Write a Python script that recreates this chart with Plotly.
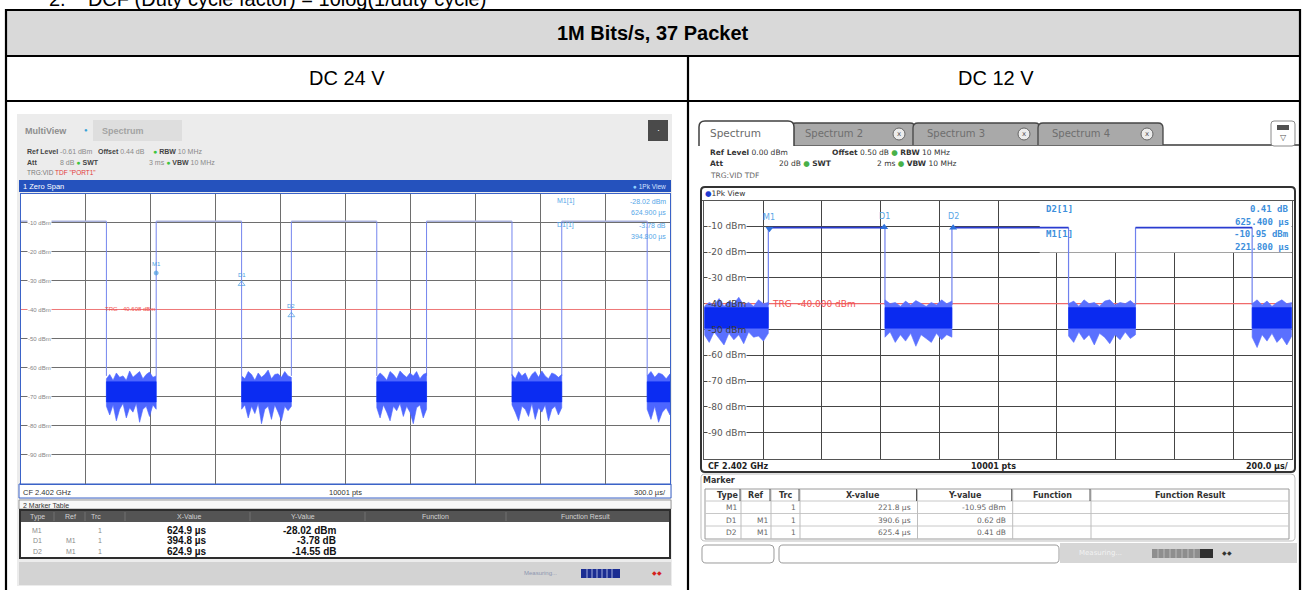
import numpy as np
import plotly.graph_objects as go

W, H = 1306, 590

# ======================= data =======================
doc_heading = "2.&nbsp;&nbsp;&nbsp;&nbsp;DCF (Duty cycle factor) = 10log(1/duty cycle)"
table_title = "1M Bits/s, 37 Packet"
column_titles = ["DC 24 V", "DC 12 V"]
level_labels = ["-10 dBm", "-20 dBm", "-30 dBm", "-40 dBm", "-50 dBm",
                "-60 dBm", "-70 dBm", "-80 dBm", "-90 dBm"]

# ---- left analyser (DC 24 V), zero span 300 us/div ----
left_sweep_us = [0.0, 3000.0]
left_ref_dbm = -0.61
left_high_dbm = -10.2
left_fall_us = [394.8, 1019.7, 1644.6, 2269.5, 2894.4]
left_rise_us = [624.9, 1249.8, 1874.7, 2499.6]
left_edge_floor_dbm = -63.5
left_noise_core_dbm = [-65.5, -72.5]
left_noise_top_dbm = [
    [-64.5, -63.0, -65.0, -62.5, -64.0, -63.5, -65.0, -61.8, -64.0, -63.0, -62.0, -64.5, -63.0, -62.2, -64.0, -63.5],
    [-63.5, -64.5, -62.0, -63.0, -65.0, -62.5, -64.0, -63.0, -61.5, -64.5, -63.0, -62.8, -64.0, -62.0, -63.5, -64.0],
    [-64.0, -62.5, -63.5, -65.0, -62.0, -63.0, -64.5, -61.8, -63.0, -64.0, -62.5, -63.5, -62.0, -64.5, -63.0, -62.5],
    [-63.0, -64.5, -62.0, -63.5, -62.5, -65.0, -63.0, -62.0, -64.0, -61.8, -63.5, -64.5, -62.5, -63.0, -64.0, -63.0],
    [-63.5, -62.0, -64.0, -62.5, -63.0, -64.5, -62.8],
]
left_noise_bottom_dbm = [
    [-74.0, -77.0, -73.5, -79.0, -75.0, -73.0, -78.0, -74.5, -76.0, -73.0, -79.5, -75.0, -74.0, -77.5, -73.5, -75.0],
    [-75.0, -73.5, -78.0, -74.0, -76.5, -73.0, -80.0, -75.0, -74.0, -78.5, -73.5, -76.0, -79.0, -74.0, -75.5, -74.0],
    [-74.5, -78.0, -73.5, -76.0, -79.0, -74.0, -75.5, -73.0, -77.5, -74.0, -76.0, -80.0, -74.5, -73.5, -78.0, -75.0],
    [-73.5, -76.0, -79.0, -74.0, -75.0, -77.5, -73.0, -78.5, -74.5, -76.0, -73.5, -79.0, -75.0, -74.0, -77.0, -74.5],
    [-75.0, -78.5, -74.0, -79.5, -76.0, -74.5, -77.0],
]
left_trg_dbm = -40.608
left_trg_text = "TRG  -40.608 dBm"
left_marker_names = ["M1", "D1", "D2"]
left_marker_us = [624.9, 1019.7, 1249.8]
left_marker_dbm = [-28.02, -31.80, -42.57]
left_marker_ref = ["", "M1", "M1"]
left_marker_trc = ["1", "1", "1"]
left_marker_xval = ["624.9 µs", "394.8 µs", "624.9 µs"]
left_marker_yval = ["-28.02 dBm", "-3.78 dB", "-14.55 dB"]
left_readout_names = ["M1[1]", "", "D1[1]", ""]
left_readout_vals = ["-28.02 dBm", "624.900 µs", "-3.78 dB", "394.800 µs"]
left_table_cols = ["Type", "Ref", "Trc", "X-Value", "Y-Value", "Function", "Function Result"]

# ---- right analyser (DC 12 V), zero span 200 us/div ----
right_sweep_us = [0.0, 2000.0]
right_ref_dbm = 0.0
right_high_dbm = -10.5
right_rise_us = [218.0, 843.0, 1468.0]
right_fall_us = [615.0, 1240.0, 1865.0]
right_edge_floor_dbm = -40.5
right_noise_core_dbm = [-41.5, -49.5]
right_noise_top_dbm = [
    [-41.0, -39.5, -40.5, -38.0, -41.0, -39.0, -40.0, -37.5, -40.5, -39.5, -41.0, -38.5, -40.0, -39.5],
    [-38.5, -40.0, -39.5, -41.0, -39.0, -40.5, -38.8, -40.0, -41.0, -39.5, -40.5, -38.5, -40.0, -39.0],
    [-40.0, -39.0, -41.0, -38.5, -40.0, -39.5, -41.0, -39.0, -38.5, -40.5, -39.5, -40.0, -38.8, -40.5],
    [-40.0, -38.5, -40.5, -39.0, -41.0, -39.5, -38.5, -40.0, -39.5],
]
right_noise_bottom_dbm = [
    [-52.0, -55.0, -51.0, -53.5, -56.0, -51.5, -54.0, -52.0, -55.5, -51.0, -53.0, -52.5, -54.5, -51.5],
    [-53.0, -51.0, -55.0, -52.0, -54.5, -51.5, -56.5, -52.0, -53.5, -55.0, -51.5, -54.0, -52.0, -53.0],
    [-52.5, -55.0, -51.0, -54.0, -52.0, -56.0, -51.5, -53.0, -55.5, -52.0, -54.0, -51.0, -53.5, -52.0],
    [-53.0, -57.0, -52.0, -54.5, -51.5, -55.0, -53.0, -56.0, -52.5],
]
right_trg_dbm = -40.0
right_trg_text = "TRG  -40.000 dBm"
right_marker_names = ["M1", "D1", "D2"]
right_marker_us = [221.8, 612.4, 847.2]
right_marker_dbm = [-10.95, -10.33, -10.54]
right_marker_ref = ["", "M1", "M1"]
right_marker_trc = ["1", "1", "1"]
right_marker_xval = ["221.8 µs", "390.6 µs", "625.4 µs"]
right_marker_yval = ["-10.95 dBm", "0.62 dB", "0.41 dB"]
right_readout_names = ["D2[1]", "", "M1[1]", ""]
right_readout_vals = ["0.41 dB", "625.400 µs", "-10.95 dBm", "221.800 µs"]
right_table_cols = ["Type", "Ref", "Trc", "X-value", "Y-value", "Function", "Function Result"]
right_tabs = ["Spectrum 2", "Spectrum 3", "Spectrum 4"]

# ======================= helpers =======================
SANS = "Liberation Sans, Arial, sans-serif"
DV = "DejaVu Sans, Verdana, sans-serif"
MONO = "DejaVu Sans Mono, monospace"
shapes, annos = [], []


def X(p):
    return p / W


def Y(p):
    return 1 - p / H


def rect(x0, y0, x1, y1, fill="rgba(0,0,0,0)", line="rgba(0,0,0,0)", lw=0, layer="below"):
    shapes.append(dict(type="rect", xref="paper", yref="paper", x0=X(x0), x1=X(x1),
                       y0=Y(y1), y1=Y(y0), fillcolor=fill,
                       line=dict(color=line, width=lw), layer=layer))


def seg(x0, y0, x1, y1, color="#000", lw=1, layer="above"):
    shapes.append(dict(type="line", xref="paper", yref="paper", x0=X(x0), x1=X(x1),
                       y0=Y(y0), y1=Y(y1), line=dict(color=color, width=lw), layer=layer))


def rrect(x0, y0, x1, y1, r, fill="rgba(0,0,0,0)", line="#444", lw=1, top_only=False, layer="above"):
    def p(x, y):
        return f"{X(x):.6f},{Y(y):.6f}"
    if top_only:
        d = (f"M{p(x0, y1)} L{p(x0, y0 + r)} Q{p(x0, y0)} {p(x0 + r, y0)} "
             f"L{p(x1 - r, y0)} Q{p(x1, y0)} {p(x1, y0 + r)} L{p(x1, y1)}")
    else:
        d = (f"M{p(x0, y0 + r)} Q{p(x0, y0)} {p(x0 + r, y0)} L{p(x1 - r, y0)} "
             f"Q{p(x1, y0)} {p(x1, y0 + r)} L{p(x1, y1 - r)} Q{p(x1, y1)} {p(x1 - r, y1)} "
             f"L{p(x0 + r, y1)} Q{p(x0, y1)} {p(x0, y1 - r)} Z")
    shapes.append(dict(type="path", xref="paper", yref="paper", path=d, fillcolor=fill,
                       line=dict(color=line, width=lw), layer=layer))


def txt(x, y, s, size, color="#000", xa="left", fam=SANS, bg=None, ya="middle"):
    a = dict(xref="paper", yref="paper", x=X(x), y=Y(y), text=s, showarrow=False,
             xanchor=xa, yanchor=ya, font=dict(size=size, color=color, family=fam), borderpad=0)
    if bg:
        a["bgcolor"] = bg
    annos.append(a)


def pulses(starts, ends, edges, high, floor):
    hx, hy, ex, ey = [], [], [], []
    for a, b in zip(starts, ends):
        hx += [a, b, None]
        hy += [high, high, None]
    for t in edges:
        ex += [t, t, None]
        ey += [high, floor, None]
    return hx, hy, ex, ey


def noise(starts, ends, tops, bottoms, core):
    ox, oy, cx, cy = [], [], [], []
    for a, b, t, bt in zip(starts, ends, tops, bottoms):
        xt = list(np.linspace(a, b, len(t)))
        xb = list(np.linspace(b, a, len(bt)))
        ox += xt + xb + [xt[0], None]
        oy += list(t) + list(bt[::-1]) + [t[0], None]
        cx += [a, b, b, a, a, None]
        cy += [core[0], core[0], core[1], core[1], core[0], None]
    return ox, oy, cx, cy


fig = go.Figure()

# ======================= document table =======================
txt(48, 11, doc_heading, 20, "#000", fam=SANS, ya="bottom")
rect(6, 10, 1300, 56, fill="#d9d9d9")
for yy in (10, 56, 101):
    seg(5, yy, 1301, yy, "#000", 2.2)
seg(6, 9, 6, 591, "#000", 2.2)
seg(1300, 9, 1300, 591, "#000", 2.2)
seg(688, 56, 688, 591, "#000", 2.2)
txt(653, 33, f"<b>{table_title}</b>", 20, "#000", xa="center")
txt(347, 78.5, column_titles[0], 20, "#000", xa="center")
txt(996, 78.5, column_titles[1], 20, "#000", xa="center")

# ======================= left screenshot chrome =======================
LX0, LX1, LT, LB = 21.0, 670.0, 193.5, 483.5
rect(17, 114, 672, 586, fill="#ececec")
rect(LX0, LT, LX1, LB, fill="#ffffff")
txt(24, 131, "<b>MultiView</b>", 9, "#8e8e8e")
txt(83, 130, "●", 6, "#39a3d8")
rect(93, 120, 182, 141, fill="#dedede")
txt(101, 131, "<b>Spectrum</b>", 9, "#a3a3a3")
rect(648, 120, 668, 141, fill="#4a4a4a")
txt(658, 130, "·", 9, "#ffffff", xa="center")
G = "<span style='color:#3ec43e'>●</span>"
txt(26, 152, "<b>Ref Level</b> <span style='color:#8a8a8a'>-0.61 dBm</span>", 7, "#444")
txt(97, 152, "<b>Offset</b> <span style='color:#8a8a8a'>0.44 dB</span>", 7, "#444")
txt(152, 152, f"{G} <b>RBW</b> <span style='color:#8a8a8a'>10 MHz</span>", 7, "#444")
txt(26, 162, "<b>Att</b>", 7, "#444")
txt(100, 162, f"<span style='color:#8a8a8a'>8 dB</span> {G} <b>SWT</b>", 7, "#444", xa="right")
txt(148, 162, f"<span style='color:#8a8a8a'>3 ms</span> {G} <b>VBW</b> <span style='color:#8a8a8a'>10 MHz</span>", 7, "#444")
txt(26, 172, "TRG:VID <span style='color:#e23a3a'>TDF \"PORT1\"</span>", 6.5, "#7a7a7a")
rect(19, 180, 671, 192, fill="#2552bd")
txt(22, 186, "1 Zero Span", 7.5, "#ffffff")
txt(667, 186, "<span style='color:#8fd0ff'>●</span> 1Pk View", 6.5, "#d6e2ff", xa="right")
rect(19, 484, 671, 498, fill="#ffffff", line="#3b63c8", lw=1)
txt(22, 492, "CF 2.402 GHz", 7.5, "#333")
txt(345, 492, "10001 pts", 7.5, "#333", xa="center")
txt(667, 492, "300.0 µs/", 7.5, "#333", xa="right")
rect(19, 500, 671, 509, fill="#f7f7f7", line="#888", lw=0.8)
txt(22, 505, "2 Marker Table", 7, "#333")
rect(20, 510, 670, 558, fill="#ffffff", line="#2d2d2d", lw=2)
rect(21, 511, 669, 522, fill="#545454")
lcol_x = [37, 70, 96, 189, 303, 435, 585]
for s, cx in zip(left_table_cols, lcol_x):
    txt(cx, 516.5, s, 7, "#d2d2d2", xa="center")
for sx in (54, 85, 125, 250, 365, 506):
    seg(sx, 512, sx, 521, "#7a7a7a", 0.8)
for i, yy in enumerate((530, 540.5, 551)):
    txt(37, yy, left_marker_names[i], 7, "#8a8a8a", xa="center")
    txt(71, yy, left_marker_ref[i], 7, "#8a8a8a", xa="center")
    txt(100, yy, left_marker_trc[i], 7, "#8a8a8a", xa="center")
    txt(208, yy, f"<b>{left_marker_xval[i]}</b>", 10, "#111", xa="right")
    txt(337, yy, f"<b>{left_marker_yval[i]}</b>", 10, "#111", xa="right")
rect(19, 562, 671, 585, fill="#d3d3d3")
txt(523, 573, "Measuring...", 6, "#8d96b0")
rect(581, 569, 620, 578, fill="#1b2d92")
for sx in (587, 592, 597, 602, 607, 612):
    seg(sx, 569, sx, 578, "#dfe6ff", 0.7)
txt(657, 573, "◆◆", 6, "#d42020", xa="center")

# ======================= right screenshot chrome =======================
RX0, RX1, RT, RB = 704.3, 1291.8, 200.5, 458.5
seg(790, 145, 1299, 145, "#3a3a3a", 1.6)
tab_x = [(791, 915), (913, 1040), (1038, 1163)]
for (a, b), name in zip(tab_x, right_tabs):
    rrect(a, 123, b, 145, 5, fill="#a9a9a9", line="#454545", lw=1.3, top_only=True)
    txt(a + 13, 134, name, 10, "#6e6e6e", fam=DV)
    shapes.append(dict(type="circle", xref="paper", yref="paper", x0=X(b - 22), x1=X(b - 10),
                       y0=Y(140), y1=Y(128), fillcolor="#ececec", line=dict(color="#666", width=1)))
    txt(b - 16, 133.5, "x", 7, "#555", xa="center", fam=DV)
rrect(699, 121, 794, 146, 6, fill="#ffffff", line="#404040", lw=1.5, top_only=True)
txt(709, 133, "Spectrum", 10.5, "#6a6a6a", fam=DV)
rrect(1271, 121, 1295, 146, 3, fill="#ffffff", line="#8a8a8a", lw=1)
rect(1277, 125, 1289, 130, fill="#505050", layer="above")
txt(1283, 137, "▽", 8, "#555", xa="center", fam=DV)
GR = "<span style='color:#48b048'>●</span>"
txt(709, 152.5, "<b>Ref Level</b> 0.00 dBm", 7.5, "#333", fam=DV)
txt(831, 152.5, f"<b>Offset</b> 0.50 dB {GR} <b>RBW</b> 10 MHz", 7.5, "#333", fam=DV)
txt(709, 163.5, "<b>Att</b>", 7.5, "#333", fam=DV)
txt(833, 163.5, f"20 dB {GR} <b>SWT</b>", 7.5, "#333", xa="right", fam=DV)
txt(876, 163.5, f"2 ms {GR} <b>VBW</b> 10 MHz", 7.5, "#333", fam=DV)
txt(709, 175.5, "TRG:VID TDF", 7.5, "#666", fam=DV)
rrect(701, 187, 1295, 472, 4, line="#333", lw=2)
seg(702, 200.5, 1294, 200.5, "#555", 1)
txt(704, 193.5, "<span style='color:#1f3ad0'>●</span>1Pk View", 7.5, "#333", fam=DV)
txt(707, 466, "<b>CF 2.402 GHz</b>", 8, "#222", fam=DV)
txt(993, 466, "<b>10001 pts</b>", 8, "#222", xa="center", fam=DV)
txt(1289, 466, "<b>200.0 µs/</b>", 8, "#222", xa="right", fam=DV)
txt(702, 480, "<b>Marker</b>", 8, "#333", fam=DV)
rrect(701, 474, 1295, 541, 4, line="#bdbdbd", lw=1)
rect(705, 489, 1289, 539, fill="#ffffff", line="#9a9a9a", lw=1, layer="above")
for yy in (501, 513.5, 526):
    seg(705, yy, 1289, yy, "#c8c8c8", 1)
for sx in (741, 771, 800, 917.5, 1012.7, 1091):
    seg(sx, 489, sx, 539, "#bdbdbd", 1)
    seg(sx - 1, 489, sx - 1, 501, "#555", 1)
rcol_x = [727.6, 756, 785.5, 863, 965.5, 1052, 1190]
for s, cx in zip(right_table_cols, rcol_x):
    txt(cx, 495.5, f"<b>{s}</b>", 8, "#333", xa="center", fam=DV)
for i, yy in enumerate((507.5, 520, 532.5)):
    txt(738, yy, right_marker_names[i], 7.5, "#666", xa="right", fam=DV)
    txt(769, yy, right_marker_ref[i], 7.5, "#666", xa="right", fam=DV)
    txt(796.5, yy, right_marker_trc[i], 7.5, "#666", xa="right", fam=DV)
    txt(912, yy, right_marker_xval[i], 7.5, "#666", xa="right", fam=DV)
    txt(1007, yy, right_marker_yval[i], 7.5, "#666", xa="right", fam=DV)
rect(1060, 543, 1297, 563, fill="#d6d6d6")
rrect(702, 545, 774, 563, 4, fill="#ffffff", line="#9a9a9a", lw=1)
rrect(779, 545, 1059, 563, 4, fill="#ffffff", line="#9a9a9a", lw=1)
txt(1078, 553, "Measuring...", 7, "#f2f2f2", fam=DV)
rect(1152, 549, 1213, 558, fill="#8e8e8e", layer="above")
for sx in (1158, 1164, 1170, 1176, 1182, 1188, 1194):
    seg(sx, 549, sx, 558, "#cfcfcf", 0.7)
rect(1200, 549, 1213, 558, fill="#303030", layer="above")
txt(1227, 553, "◆◆", 6, "#333", xa="center")

# ======================= left plot traces =======================
hx, hy, ex, ey = pulses([left_sweep_us[0]] + left_rise_us, left_fall_us,
                        left_fall_us + left_rise_us, left_high_dbm, left_edge_floor_dbm)
ox, oy, cx, cy = noise(left_fall_us, left_rise_us + [left_sweep_us[1]],
                       left_noise_top_dbm, left_noise_bottom_dbm, left_noise_core_dbm)
fig.add_trace(go.Scatter(x=left_sweep_us, y=[left_trg_dbm] * 2, mode="lines",
                         line=dict(color="#f07a7a", width=1), xaxis="x", yaxis="y"))
fig.add_trace(go.Scatter(x=ex, y=ey, mode="lines", line=dict(color="#7485ee", width=1),
                         xaxis="x", yaxis="y"))
fig.add_trace(go.Scatter(x=hx, y=hy, mode="lines", line=dict(color="#aab2dc", width=1.5),
                         xaxis="x", yaxis="y"))
fig.add_trace(go.Scatter(x=ox, y=oy, mode="lines", fill="toself", fillcolor="#4d66ff",
                         line=dict(color="#4d66ff", width=0.6), xaxis="x", yaxis="y"))
fig.add_trace(go.Scatter(x=cx, y=cy, mode="lines", fill="toself", fillcolor="#0b2cf2",
                         line=dict(color="#0b2cf2", width=0.5), xaxis="x", yaxis="y"))
fig.add_trace(go.Scatter(x=left_marker_us, y=left_marker_dbm, mode="markers",
                         marker=dict(symbol=["circle", "triangle-up-open", "triangle-up-open"],
                                     size=[4, 6, 6], color="#4a9de0", line=dict(width=1, color="#4a9de0")),
                         xaxis="x", yaxis="y"))

# ======================= right plot traces =======================
hx, hy, ex, ey = pulses(right_rise_us, right_fall_us, right_rise_us + right_fall_us,
                        right_high_dbm, right_edge_floor_dbm)
ox, oy, cx, cy = noise([right_sweep_us[0]] + right_fall_us, right_rise_us + [right_sweep_us[1]],
                       right_noise_top_dbm, right_noise_bottom_dbm, right_noise_core_dbm)
fig.add_trace(go.Scatter(x=right_sweep_us, y=[right_trg_dbm] * 2, mode="lines",
                         line=dict(color="#f06a6a", width=1.2), xaxis="x2", yaxis="y2"))
fig.add_trace(go.Scatter(x=ex, y=ey, mode="lines", line=dict(color="#6f80ee", width=1.2),
                         xaxis="x2", yaxis="y2"))
fig.add_trace(go.Scatter(x=hx, y=hy, mode="lines", line=dict(color="#2a3cd0", width=1.6),
                         xaxis="x2", yaxis="y2"))
fig.add_trace(go.Scatter(x=ox, y=oy, mode="lines", fill="toself", fillcolor="#5a70ff",
                         line=dict(color="#5a70ff", width=0.6), xaxis="x2", yaxis="y2"))
fig.add_trace(go.Scatter(x=cx, y=cy, mode="lines", fill="toself", fillcolor="#0a2af0",
                         line=dict(color="#0a2af0", width=0.5), xaxis="x2", yaxis="y2"))
fig.add_trace(go.Scatter(x=right_marker_us, y=right_marker_dbm, mode="markers",
                         marker=dict(symbol=["triangle-down", "triangle-up", "triangle-up"],
                                     size=7, color="#2f72dc"),
                         xaxis="x2", yaxis="y2"))

# readout box on right (hides gridlines)
x_box = right_sweep_us[0] + (right_sweep_us[1] - right_sweep_us[0]) * 0.571
shapes.append(dict(type="rect", xref="x2", yref="y2", x0=x_box, x1=right_sweep_us[1],
                   y0=-20.2, y1=right_ref_dbm, fillcolor="#ffffff", line=dict(width=0),
                   layer="between"))

# ======================= in-plot annotations =======================
for k, lab in enumerate(level_labels):
    annos.append(dict(xref="x domain", yref="y", x=0.009, y=left_ref_dbm - 10 * (k + 1), text=lab,
                      showarrow=False, xanchor="left", yanchor="middle", bgcolor="#ffffff",
                      font=dict(size=6, color="#858585", family=SANS), borderpad=0))
    under_noise = lab in ("-40 dBm", "-50 dBm")
    a = dict(xref="x2 domain", yref="y2", x=0.005, y=right_ref_dbm - 10 * (k + 1), text=lab,
             showarrow=False, xanchor="left", yanchor="middle",
             font=dict(size=9, color="#3a3a3a" if under_noise else "#555", family=DV), borderpad=0)
    if not under_noise:
        a["bgcolor"] = "#ffffff"
    annos.append(a)

for name, xv, yv in zip(left_marker_names, left_marker_us, left_marker_dbm):
    annos.append(dict(xref="x", yref="y", x=xv, y=yv, text=name, showarrow=False, yshift=9,
                      font=dict(size=6, color="#4aa0e2", family=SANS)))
for name, xv, yv in zip(right_marker_names, right_marker_us, right_marker_dbm):
    annos.append(dict(xref="x2", yref="y2", x=xv, y=yv, text=name, showarrow=False, yshift=11,
                      font=dict(size=8, color="#5aa6e6", family=DV)))
annos.append(dict(xref="x", yref="y", x=378, y=left_trg_dbm, text=left_trg_text, showarrow=False,
                  xanchor="left", font=dict(size=6, color="#f05050", family=SANS)))
annos.append(dict(xref="x2", yref="y2", x=222, y=right_trg_dbm, text=right_trg_text, showarrow=False,
                  xanchor="left", font=dict(size=9, color="#f05050", family=DV)))

for i, (n, v) in enumerate(zip(left_readout_names, left_readout_vals)):
    yy = 201 + 12 * i
    if n:
        txt(556, yy, n, 7, "#55a6e8")
    txt(667, yy, v, 7, "#55a6e8", xa="right")
for i, (n, v) in enumerate(zip(right_readout_names, right_readout_vals)):
    yy = 209 + 12.7 * i
    if n:
        txt(1045, yy, f"<b>{n}</b>", 9, "#3d8fdc", fam=MONO)
    txt(1290, yy, f"<b>{v}</b>", 9, "#3d8fdc", xa="right", fam=MONO)

# ======================= axes =======================
lx_grid = list(np.linspace(left_sweep_us[0], left_sweep_us[1], 11)[1:-1])
rx_grid = list(np.linspace(right_sweep_us[0], right_sweep_us[1], 11)[1:-1])
ly_grid = [left_ref_dbm - 10 * (k + 1) for k in range(9)]
ry_grid = [right_ref_dbm - 10 * (k + 1) for k in range(9)]
common = dict(showticklabels=False, ticks="", zeroline=False, showgrid=True, fixedrange=True)
fig.update_layout(
    width=W, height=H, margin=dict(l=0, r=0, t=0, b=0),
    paper_bgcolor="#ffffff", plot_bgcolor="#ffffff", showlegend=False, hovermode=False,
    xaxis=dict(domain=[X(LX0), X(LX1)], range=left_sweep_us, tickvals=lx_grid, anchor="y",
               gridcolor="#6e6e6e", gridwidth=1, showline=True, mirror=True,
               linecolor="#3b63c8", linewidth=1, **common),
    yaxis=dict(domain=[Y(LB), Y(LT)], range=[left_ref_dbm - 100, left_ref_dbm], tickvals=ly_grid,
               anchor="x", gridcolor="#6e6e6e", gridwidth=1, showline=True, mirror=True,
               linecolor="#3b63c8", linewidth=1, **common),
    xaxis2=dict(domain=[X(RX0), X(RX1)], range=right_sweep_us, tickvals=rx_grid, anchor="y2",
                gridcolor="#454545", gridwidth=1.3, showline=True, mirror=True,
                linecolor="#555", linewidth=1, **common),
    yaxis2=dict(domain=[Y(RB), Y(RT)], range=[right_ref_dbm - 100, right_ref_dbm], tickvals=ry_grid,
                anchor="x2", gridcolor="#454545", gridwidth=1.3, showline=True, mirror=True,
                linecolor="#555", linewidth=1, **common),
    shapes=shapes, annotations=annos,
)
fig.write_html("out.html", config={"displayModeBar": False},
               post_script="document.body.style.margin='0px';document.body.style.overflow='hidden';")
